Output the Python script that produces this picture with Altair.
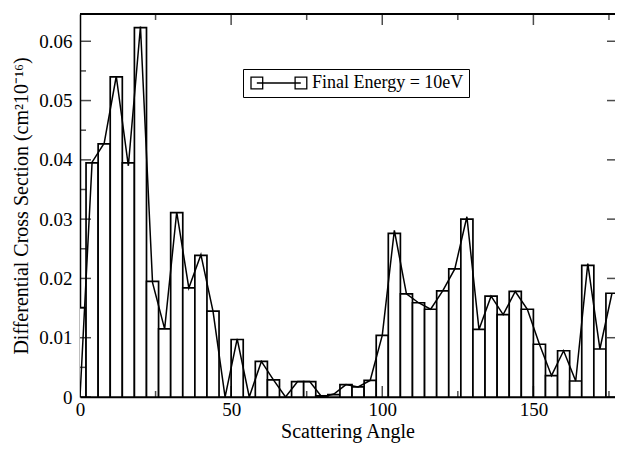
import altair as alt
import pandas as pd

# ---- data ----
angles = [0, 4, 8, 12, 16, 20, 24, 28, 32, 36,
          40, 44, 48, 52, 56, 60, 64, 68, 72, 76,
          80, 84, 88, 92, 96, 100, 104, 108, 112, 116,
          120, 124, 128, 132, 136, 140, 144, 148, 152, 156,
          160, 164, 168, 172, 176]
bar_values = [0.0151, 0.0395, 0.0427, 0.0540, 0.0395, 0.0623, 0.0195, 0.0115, 0.0311, 0.0184,
              0.0239, 0.0145, 0.0000, 0.0097, 0.0000, 0.0060, 0.0029, 0.0000, 0.0026, 0.0026,
              0.0002, 0.0004, 0.0021, 0.0017, 0.0028, 0.0104, 0.0276, 0.0174, 0.0159, 0.0148,
              0.0179, 0.0216, 0.0300, 0.0114, 0.0170, 0.0139, 0.0178, 0.0148, 0.0089, 0.0036,
              0.0078, 0.0027, 0.0222, 0.0081, 0.0175]
line_values = [0.0000, 0.0396, 0.0428, 0.0541, 0.0390, 0.0625, 0.0193, 0.0115, 0.0312, 0.0184,
               0.0240, 0.0145, 0.0000, 0.0098, 0.0000, 0.0060, 0.0029, 0.0000, 0.0026, 0.0026,
               0.0000, 0.0005, 0.0021, 0.0017, 0.0028, 0.0104, 0.0281, 0.0174, 0.0159, 0.0148,
               0.0179, 0.0216, 0.0304, 0.0114, 0.0170, 0.0139, 0.0178, 0.0148, 0.0089, 0.0036,
               0.0078, 0.0027, 0.0225, 0.0081, 0.0175]
series_name = "Final Energy = 10eV"

x_label_values = [0, 50, 100, 150]
x_minor_values = [25, 75, 125, 175]
y_label_values = [0, 0.01, 0.02, 0.03, 0.04, 0.05, 0.06]
y_minor_values = [0.005, 0.015, 0.025, 0.035, 0.045, 0.055]

X_MAX = 177
Y_MAX = 0.0646
BIN_HALF = 2

FONT = "Liberation Serif, Times New Roman, serif"

df = pd.DataFrame({"angle": angles, "bar": bar_values, "line": line_values,
                   "series": [series_name] * len(angles)})

# tick mark tables (drawn inward, clipped to the frame)
xt_rows = []
for v in x_label_values:
    xt_rows.append({"x": v, "y": 0, "len": 22})
    xt_rows.append({"x": v, "y": Y_MAX, "len": 22})
for v in x_minor_values:
    xt_rows.append({"x": v, "y": 0, "len": 12})
    xt_rows.append({"x": v, "y": Y_MAX, "len": 12})
xt_df = pd.DataFrame(xt_rows)

yt_rows = []
for v in y_label_values:
    yt_rows.append({"x": 0, "y": v, "len": 22})
    yt_rows.append({"x": X_MAX, "y": v, "len": 16})
for v in y_minor_values:
    yt_rows.append({"x": 0, "y": v, "len": 12})
yt_df = pd.DataFrame(yt_rows)

xs = alt.Scale(domain=[0, X_MAX], nice=False, zero=False)
ys = alt.Scale(domain=[0, Y_MAX], nice=False, zero=False)

x_axis = alt.Axis(values=x_label_values, ticks=False, grid=False, labelFlush=False,
                  domain=True, domainColor="black", domainWidth=1.5,
                  labelFont=FONT, labelFontSize=19, labelColor="black",
                  titleFont=FONT, titleFontSize=20, titleFontWeight="normal",
                  titleColor="black",
                  labelPadding=3, title="Scattering Angle", titlePadding=2)
y_axis = alt.Axis(values=y_label_values, format=".2~f", ticks=False, grid=False,
                  domain=True, domainColor="black", domainWidth=1.5,
                  labelFont=FONT, labelFontSize=19, labelColor="black",
                  titleFont=FONT, titleFontSize=20, titleFontWeight="normal",
                  titleColor="black",
                  labelPadding=8, title="Differential Cross Section (cm²10⁻¹⁶)",
                  titlePadding=7)

legend_symbol = ("M-0.03,0H7.3"
                 "M-1,-0.97H0.95V0.97H-1Z"
                 "M6.35,-0.97H8.3V0.97H6.35Z")

bars = alt.Chart(df).transform_calculate(
    a0=f"datum.angle - {BIN_HALF}", a1=f"datum.angle + {BIN_HALF}"
).mark_bar(fill="white", stroke="black", strokeWidth=1.7, clip=True).encode(
    x=alt.X("a0:Q", scale=xs, axis=x_axis),
    x2="a1:Q",
    y=alt.Y("bar:Q", scale=ys, axis=y_axis),
    y2=alt.datum(0),
)

line = alt.Chart(df).mark_line(strokeWidth=1.5, clip=True).encode(
    x=alt.X("angle:Q", scale=xs, axis=x_axis),
    y=alt.Y("line:Q", scale=ys, axis=y_axis),
    color=alt.Color("series:N", scale=alt.Scale(range=["black"]),
                    legend=alt.Legend(title=None, orient="none", legendX=163, legendY=55,
                                      padding=5, strokeColor="black", fillColor="white",
                                      symbolType=legend_symbol, symbolSize=144,
                                      symbolStrokeWidth=1.3, symbolStrokeColor="black",
                                      symbolFillColor="white",
                                      labelOffset=46, labelFont=FONT, labelFontSize=18,
                                      labelColor="black")),
)

xticks = alt.Chart(xt_df).mark_tick(orient="vertical", thickness=1.5, color="black",
                                    clip=True).encode(
    x=alt.X("x:Q", scale=xs, axis=x_axis),
    y=alt.Y("y:Q", scale=ys, axis=y_axis),
    size=alt.Size("len:Q", scale=None, legend=None),
)

yticks = alt.Chart(yt_df).mark_tick(orient="horizontal", thickness=1.5, color="black",
                                    clip=True).encode(
    x=alt.X("x:Q", scale=xs, axis=x_axis),
    y=alt.Y("y:Q", scale=ys, axis=y_axis),
    size=alt.Size("len:Q", scale=None, legend=None),
)

top_border = alt.Chart(df).mark_rule(color="black", strokeWidth=1.5).encode(
    y=alt.value(0)
)

chart = alt.layer(bars, line, xticks, yticks, top_border).properties(
    width=535, height=383,
    padding={"left": 72, "top": 6, "right": 0, "bottom": 46},
    autosize="none",
    background="white",
).configure_view(stroke=None)

chart.save("out.html", embed_options={"renderer": "svg", "actions": False})
